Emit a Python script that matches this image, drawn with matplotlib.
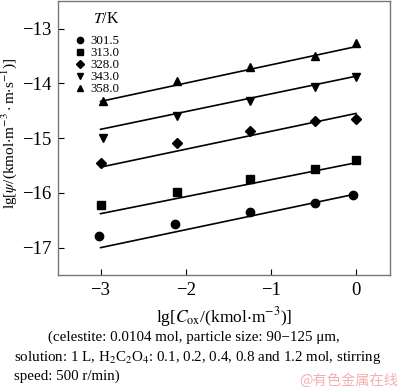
import matplotlib
matplotlib.use("Agg")
import matplotlib.pyplot as plt
import numpy as np
from matplotlib.lines import Line2D

plt.rcParams['font.family'] = ['Liberation Serif', 'DejaVu Serif']
plt.rcParams['mathtext.fontset'] = 'stix'

temps = ["301.5", "313.0", "328.0", "343.0", "358.0"]
markers = ["o", "s", "D", "v", "^"]
x_pts = [
    [-3.02, -2.13, -1.25, -0.48, -0.03],
    [-3.0, -2.1, -1.25, -0.48, 0.0],
    [-3.0, -2.1, -1.25, -0.48, 0.0],
    [-2.97, -2.1, -1.25, -0.48, 0.0],
    [-2.97, -2.1, -1.25, -0.48, 0.0],
]
y_pts = [
    [-16.78, -16.57, -16.35, -16.18, -16.04],
    [-16.22, -15.98, -15.75, -15.56, -15.40],
    [-15.45, -15.09, -14.87, -14.69, -14.65],
    [-15.00, -14.60, -14.33, -14.07, -13.89],
    [-14.33, -13.96, -13.71, -13.51, -13.27],
]
# fitted line endpoints (at x = -3 and x = 0)
fit_x = [-3.0, 0.0]
fit_y = [
    [-17.00, -16.02],
    [-16.38, -15.45],
    [-15.53, -14.55],
    [-14.84, -13.87],
    [-14.33, -13.33],
]

fig = plt.figure(figsize=(4.0, 3.89), dpi=100)
ax = fig.add_axes([0.145, 0.293, 0.83, 0.704])

for i in range(len(temps)):
    ax.plot(fit_x, fit_y[i], color='black', lw=1.2)
    ms = 6 if markers[i] != 'D' else 5.2
    ax.plot(x_pts[i], y_pts[i], linestyle='none', marker=markers[i],
            color='black', markersize=ms)

ax.set_xlim(-3.5, 0.4)
ax.set_ylim(-17.5, -12.5)
ax.set_xticks([-3, -2, -1, 0])
ax.set_yticks([-17, -16, -15, -14, -13])
ax.set_xticklabels(['\u22123', '\u22122', '\u22121', '0'])
ax.set_yticklabels(['\u221217', '\u221216', '\u221215', '\u221214', '\u221213'])
ax.tick_params(direction='in', labelsize=13.5, length=4, width=0.8, pad=5)
for s in ax.spines.values():
    s.set_color('#777777')
    s.set_linewidth(1.0)

ax.set_xlabel(r'lg[$C_{\rm ox}$/(kmol$\cdot$m$^{-3}$)]', fontsize=12.5, labelpad=4)
ax.set_ylabel(r'lg[$\psi$/(kmol$\cdot$m$^{-3}\cdot$m$\cdot$s$^{-1}$)]', fontsize=11)
ax.yaxis.set_label_coords(-0.118, 0.518)

handles = [Line2D([], [], linestyle='none', marker=m, color='black',
                  markersize=4.5) for m in markers]
leg = ax.legend(handles, temps, loc='upper left',
                bbox_to_anchor=(0.035, 0.9), frameon=False, fontsize=9.3,
                handlelength=0.6, handletextpad=0.5,
                labelspacing=0.0, borderpad=0.0)
ax.text(0.105, 0.935, r'$T$/K', transform=ax.transAxes, fontsize=11.5,
        ha='left', va='center')

fig.text(0.485, 0.134, '(celestite: 0.0104 mol, particle size: 90\u2212125 \u03bcm,',
         ha='center', va='center', fontsize=10.8)
fig.text(0.035, 0.08, r'solution: 1 L, H$_2$C$_2$O$_4$: 0.1, 0.2, 0.4, 0.8 and 1.2 mol, stirring',
         ha='left', va='center', fontsize=10.8)
fig.text(0.035, 0.033, 'speed: 500 r/min)', ha='left', va='center', fontsize=10.8)
fig.text(0.995, 0.022, '@有色金属在线', ha='right', va='center', fontsize=10.3,
         color='#f4b0b0', family=['Noto Sans CJK SC', 'DejaVu Sans'])

fig.savefig('out.png', dpi=100)
